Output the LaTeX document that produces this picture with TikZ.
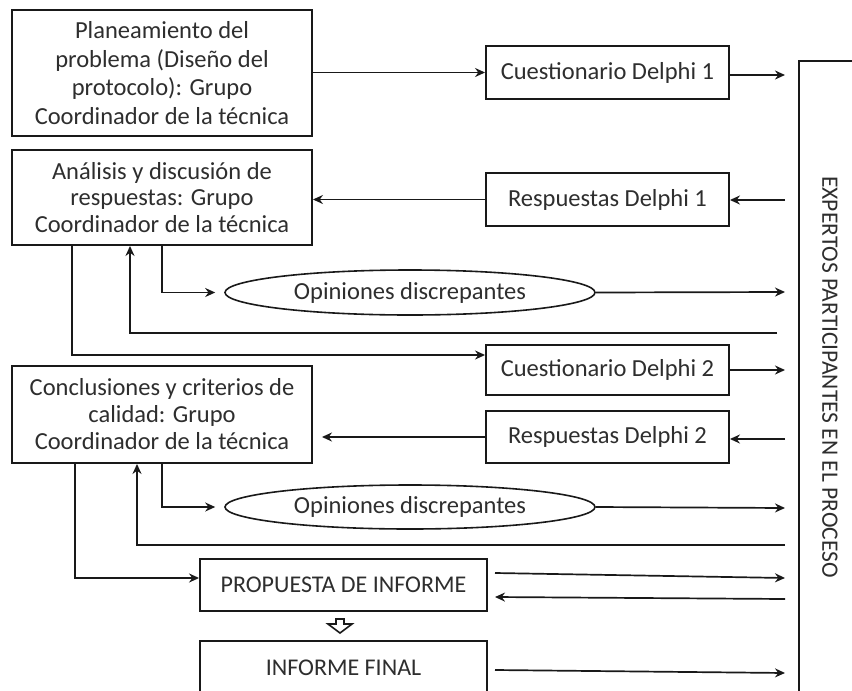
\documentclass[tikz,border=0pt]{standalone}
\usepackage{fontspec}
\setmainfont{Carlito}
\usetikzlibrary{arrows.meta,shapes.geometric,calc}
\begin{document}
\begin{tikzpicture}[x=1pt,y=-1pt,
  every node/.style={text=black!82, font=\fontsize{24.5}{28.5}\selectfont},
  box/.style={draw=black!90, line width=1.9pt, rectangle, align=center, inner sep=2pt},
  oval/.style={draw=black!90, line width=1.6pt, ellipse, inner sep=0pt},
  ln/.style={draw=black!90, line width=1.7pt},
  arr/.style={ln, -{Stealth[length=10pt,width=9pt]}},
  caps/.style={font=\fontsize{24}{28}\selectfont}]
\clip (0,0) rectangle (852,691);
\fill[white] (0,0) rectangle (852,691);
% left boxes
\node[box, minimum width=300, minimum height=126] (p1) at (162,73) {Planeamiento del\\problema (Diseño del\\protocolo): Grupo\\Coordinador de la técnica};
\node[box, minimum width=300, minimum height=95, font=\fontsize{24.5}{26.5}\selectfont] (p2) at (162,197.5) {Análisis y discusión de\\respuestas: Grupo\\Coordinador de la técnica};
\node[box, minimum width=300, minimum height=97, font=\fontsize{24.5}{27}\selectfont] (p3) at (162,414.5) {Conclusiones y criterios de\\calidad: Grupo\\Coordinador de la técnica};
% middle boxes
\node[box, minimum width=243, minimum height=53] (c1) at (607.5,72.5) {Cuestionario Delphi 1};
\node[box, minimum width=243, minimum height=53] (r1) at (607.5,199.5) {Respuestas Delphi 1};
\node[box, minimum width=243, minimum height=50] (c2) at (607.5,370) {Cuestionario Delphi 2};
\node[box, minimum width=243, minimum height=52] (r2) at (607.5,437) {Respuestas Delphi 2};
\node[oval, minimum width=370, minimum height=45] (e1) at (410,292.5) {Opiniones discrepantes};
\node[oval, minimum width=370, minimum height=44] (e2) at (410,507) {Opiniones discrepantes};
\node[box, caps, minimum width=287, minimum height=52] (prop) at (343.5,585) {PROPUESTA DE INFORME};
\node[box, caps, minimum width=287, minimum height=54] (final) at (343.5,668) {INFORME FINAL};
% experts box
\draw[ln, line width=2pt] (900,61) -| (799,760);
\node[rotate=-90, font=\fontsize{23.5}{26}\selectfont] (exp) at (830,377) {EXPERTOS PARTICIPANTES EN EL PROCESO};
% free ends near experts
\coordinate (a1) at (785,75);
\coordinate (a2) at (785,200);
\coordinate (a3) at (785,292);
\coordinate (a4) at (777,333);
\coordinate (a5) at (785,370);
\coordinate (a6) at (785,439);
\coordinate (a7) at (785,508);
\coordinate (a8) at (785,545);
\coordinate (a9) at (785,578);
\coordinate (a10) at (785,599);
\coordinate (a11) at (785,673);
\coordinate (b9) at (495,573);
\coordinate (b10) at (495,597);
\coordinate (b11) at (495,670);
% connectors
\draw[arr] (p1.east |- c1.west) -- (c1.west);
\draw[arr] (c1.east |- a1) -- (a1);
\draw[arr] (a2) -- (r1.east |- a2);
\draw[arr] (r1.west) -- (p2.east |- r1.west);
\draw[arr] (p2.south) |- ($(e1.west)+(-9,0)$);
\draw[arr] (e1.east) -- (a3);
\draw[arr] (a4) -| ($(p2.south)+(-32,0)$);
\draw[arr] ($(p2.south)+(-90,0)$) |- ($(c2.west)+(0,-15)$);
\draw[arr] (c2.east) -- (a5);
\draw[arr] (a6) -- (r2.east |- a6);
\draw[arr, shorten >=9pt] (r2.west) -- (p3.east |- r2.west);
\draw[arr] (p3.south) |- ($(e2.west)+(-9,0)$);
\draw[arr] (e2.east) -- (a7);
\draw[arr] (a8) -| ($(p3.south)+(-25,0)$);
\draw[arr, line width=2.3pt] ($(p3.south)+(-87,0)$) |- ($(prop.west)+(0,-7)$);
\draw[arr] (b9) -- (a9);
\draw[arr] (a10) -- (b10);
\draw[arr] (b11) -- (a11);
% hollow block arrow between proposal and final report
\draw[line width=1.6pt, draw=black!90, fill=white] (336,619) -- (344,619) -- (344,624) -- (352,624) -- (340,633) -- (328,624) -- (336,624) -- cycle;
\end{tikzpicture}
\end{document}
